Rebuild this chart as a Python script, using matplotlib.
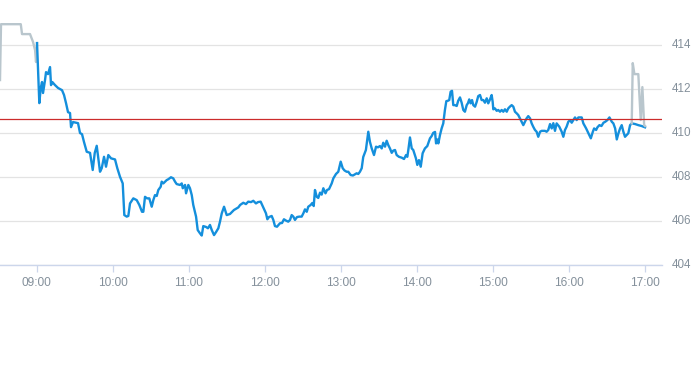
import matplotlib
matplotlib.use("Agg")
import matplotlib.pyplot as plt

# minutes after 09:00 and prices
pre_t = [-29.0, -28.2, -12.6, -11.6, -5.3, -2.9, -1.3, -0.55, 0.24]
pre_v = [412.41, 414.95, 414.95, 414.5, 414.5, 414.14, 413.77, 413.23, 414.09]

day_t = [0.24, 2.05, 3.16, 4.18, 4.97, 6.55, 7.34, 8.92, 10.5, 11.29, 12.32, 14.45, 16.82,
         19.97, 21.55, 23.13, 24.71, 26.29, 27.08, 28.66, 32.61, 34.18, 35.76, 37.34, 39.47,
         42.08, 44.21, 45.79, 47.37, 49.97, 51.32, 53.13, 54.71, 56.53, 58.66, 61.82, 63.63,
         65.76, 67.89, 69.16, 71.05, 72.32, 73.66, 76.26, 78.95, 81.0, 83.13, 84.16, 85.5,
         87.08, 88.89, 90.79, 92.05, 93.39, 94.74, 96.0, 97.89, 98.68, 99.95, 101.3, 102.6,
         103.9, 106.0, 107.8, 109.2, 110.5, 113.1, 114.5, 115.3, 117.1, 117.9, 119.7, 121.0,
         122.4, 123.6, 125.8, 127.1, 128.9, 130.3, 131.5, 133.7, 135.2, 136.8, 138.2, 140.0,
         141.6, 143.4, 144.7, 146.1, 147.9, 150.0, 152.6, 154.1, 155.7, 159.2, 160.6, 163.1,
         165.2, 167.0, 169.2, 171.0, 173.1, 174.7, 176.8, 178.9, 181.0, 182.1, 183.4, 185.5,
         186.8, 188.1, 189.7, 192.1, 193.7, 195.2, 196.8, 198.6, 200.0, 201.3, 202.6, 203.9,
         205.5, 207.3, 209.2, 210.6, 211.8, 213.2, 214.4, 216.3, 217.6, 218.7, 219.7, 221.1,
         222.3, 223.7, 225.0, 226.3, 228.0, 229.2, 230.8, 232.9, 234.2, 236.3, 238.1, 240.0,
         241.6, 243.0, 244.7, 246.0, 247.9, 249.7, 252.6, 253.9, 255.2, 256.6, 257.8, 259.9,
         261.8, 263.1, 264.5, 266.3, 267.9, 269.4, 271.0, 272.4, 273.6, 275.0, 276.3, 277.6,
         278.9, 280.3, 281.5, 282.9, 284.2, 286.0, 288.2, 290.0, 291.6, 292.6, 293.4, 294.7,
         296.1, 297.3, 299.4, 300.5, 301.8, 303.2, 304.7, 306.5, 308.4, 310.5, 311.8, 313.1,
         314.5, 315.3, 316.3, 317.1, 318.4, 319.7, 321.0, 322.3, 323.4, 324.7, 325.7, 326.8,
         327.9, 328.9, 330.2, 331.6, 332.8, 334.2, 335.5, 336.8, 338.1, 339.5, 340.5, 341.5,
         342.6, 343.7, 344.7, 346.1, 347.4, 348.6, 350.0, 351.3, 352.6, 353.9, 355.3, 356.5,
         357.9, 359.2, 360.0, 360.5, 361.8, 363.2, 364.4, 365.8, 367.1, 368.4, 369.7, 371.1,
         372.3, 373.6, 375.0, 376.3, 377.6, 378.9, 380.2, 381.5, 382.9, 384.2, 385.5, 386.8,
         388.1, 389.5, 390.8, 392.0, 393.4, 394.7, 396.0, 397.4, 398.7, 400.0, 401.3, 402.6,
         403.9, 405.3, 406.6, 407.9, 409.2, 410.5, 412.6, 414.5, 415.8, 417.1, 418.4, 419.7,
         421.1, 422.4, 423.7, 425.0, 426.3, 427.7, 430.3, 431.6, 433.8, 435.6, 437.5, 439.1,
         440.1, 441.7, 442.7, 444.3, 445.9, 447.5, 448.8, 450.6, 452.2, 454.1, 455.3, 456.7,
         458.0, 459.3, 460.6, 461.9, 463.2, 464.5, 465.8, 467.1, 468.5, 469.8, 472.4, 475.0,
         477.6, 480.3]
day_v = [414.09, 411.36, 412.05, 412.32, 411.82, 412.41, 412.77, 412.68, 413.0, 412.18, 412.32,
         412.18, 412.05, 411.95, 411.73, 411.36, 410.95, 410.91, 410.27, 410.5, 410.45, 410.0,
         409.95, 409.59, 409.15, 409.1, 408.32, 409.09, 409.42, 408.24, 408.4, 408.92, 408.47,
         409.0, 408.85, 408.8, 408.4, 408.01, 407.71, 406.27, 406.2, 406.23, 406.8, 407.03,
         406.95, 406.73, 406.42, 406.42, 407.1, 407.03, 407.03, 406.65, 406.95, 407.18, 407.14,
         407.41, 407.56, 407.79, 407.71, 407.79, 407.86, 407.9, 407.99, 407.94, 407.79, 407.68,
         407.64, 407.71, 407.49, 407.64, 407.26, 407.64, 407.49, 407.18, 406.73, 406.2, 405.59,
         405.44, 405.34, 405.77, 405.73, 405.67, 405.82, 405.59, 405.36, 405.5, 405.67, 405.97,
         406.35, 406.65, 406.27, 406.32, 406.41, 406.5, 406.62, 406.73, 406.83, 406.77, 406.88,
         406.86, 406.92, 406.8, 406.86, 406.88, 406.62, 406.35, 406.08, 406.18, 406.23, 406.05,
         405.77, 405.74, 405.9, 405.91, 406.08, 406.02, 405.97, 406.05, 406.27, 406.2, 406.05,
         406.18, 406.2, 406.2, 406.36, 406.53, 406.42, 406.65, 406.73, 406.82, 406.68, 407.41,
         407.1, 407.05, 407.29, 407.2, 407.49, 407.26, 407.41, 407.45, 407.71, 407.94, 408.14,
         408.24, 408.7, 408.4, 408.3, 408.24, 408.24, 408.09, 408.07, 408.17, 408.14, 408.24,
         408.4, 408.91, 409.23, 410.06, 409.6, 409.3, 409.0, 409.38, 409.35, 409.41, 409.3,
         409.56, 409.38, 409.65, 409.45, 409.3, 409.1, 409.2, 409.23, 409.0, 408.92, 408.88,
         408.82, 409.0, 408.92, 409.23, 409.8, 409.3, 409.23, 408.85, 408.55, 408.77, 408.47,
         409.08, 409.3, 409.41, 409.76, 409.86, 410.01, 410.05, 409.53, 409.71, 409.53, 409.91,
         410.21, 410.44, 411.05, 411.45, 411.47, 411.5, 411.88, 411.92, 411.27, 411.27, 411.23,
         411.47, 411.62, 411.38, 411.05, 410.97, 411.27, 411.36, 411.53, 411.35, 411.5, 411.27,
         411.2, 411.42, 411.68, 411.73, 411.5, 411.5, 411.38, 411.58, 411.35, 411.53, 411.73,
         411.42, 411.08, 411.12, 411.01, 411.05, 410.97, 411.05, 410.97, 411.08, 410.97, 411.12,
         411.2, 411.27, 411.2, 410.97, 410.9, 410.82, 410.67, 410.51, 410.36, 410.51, 410.67,
         410.77, 410.67, 410.44, 410.29, 410.14, 410.06, 409.83, 410.06, 410.1, 410.1, 410.1,
         410.06, 410.14, 410.41, 410.21, 410.45, 410.1, 410.44, 410.29, 410.06, 409.83, 410.14,
         410.29, 410.51, 410.59, 410.47, 410.59, 410.71, 410.59, 410.71, 410.71, 410.44, 410.21,
         409.99, 409.76, 410.06, 410.21, 410.14, 410.26, 410.36, 410.32, 410.47, 410.51, 410.59,
         410.71, 410.51, 410.44, 410.21, 409.71, 409.99, 410.21, 410.36, 410.06, 409.83, 409.91,
         409.99, 410.36, 410.44, 410.41, 410.36, 410.32, 410.26]

post_t = [469.8, 470.6, 471.9, 475.0, 476.9, 478.2, 479.6, 480.3]
post_v = [410.44, 413.18, 412.68, 412.68, 410.59, 412.09, 410.36, 410.32]

prev_close = 410.64
x_ticks = [0, 60, 120, 180, 240, 300, 360, 420, 480]
x_labels = ["09:00", "10:00", "11:00", "12:00", "13:00", "14:00", "15:00", "16:00", "17:00"]
y_ticks = [404, 406, 408, 410, 412, 414]

plt.rcParams['font.family'] = ['Liberation Sans', 'DejaVu Sans']
fig = plt.figure(figsize=(6.93, 3.65), dpi=100)
ax = fig.add_axes([0.0, 100 / 365, 662 / 693, 265 / 365])

ax.plot(pre_t, pre_v, color='#b9c6cd', lw=1.7, solid_joinstyle='round', zorder=3)
ax.plot(day_t, day_v, color='#148fdc', lw=1.7, solid_joinstyle='round', zorder=4)
ax.plot(post_t, post_v, color='#b9c6cd', lw=1.7, solid_joinstyle='round', zorder=5)
ax.axhline(prev_close, color='#cc2b2b', lw=0.9, zorder=6)

ax.set_xlim(-29.0, 493.7)
ax.set_ylim(404, 416.05)
ax.set_xticks(x_ticks)
ax.set_xticklabels(x_labels)
ax.set_yticks(y_ticks)
ax.set_yticklabels([str(v) for v in y_ticks])
ax.yaxis.tick_right()
ax.grid(axis='y', color='#e3e3e3', lw=0.9)
ax.set_axisbelow(True)
for s in ['top', 'left', 'right']:
    ax.spines[s].set_visible(False)
ax.spines['bottom'].set_color('#ccd6eb')
ax.spines['bottom'].set_linewidth(1.0)
ax.tick_params(axis='x', length=5, width=0.9, color='#ccd6eb', pad=4,
               labelsize=8.6, labelcolor='#84909b')
ax.tick_params(axis='y', length=0, pad=7, labelsize=8.4, labelcolor='#84909b')
for lab in ax.get_yticklabels():
    lab.set_verticalalignment('center')

fig.savefig('out.png', dpi=100)
